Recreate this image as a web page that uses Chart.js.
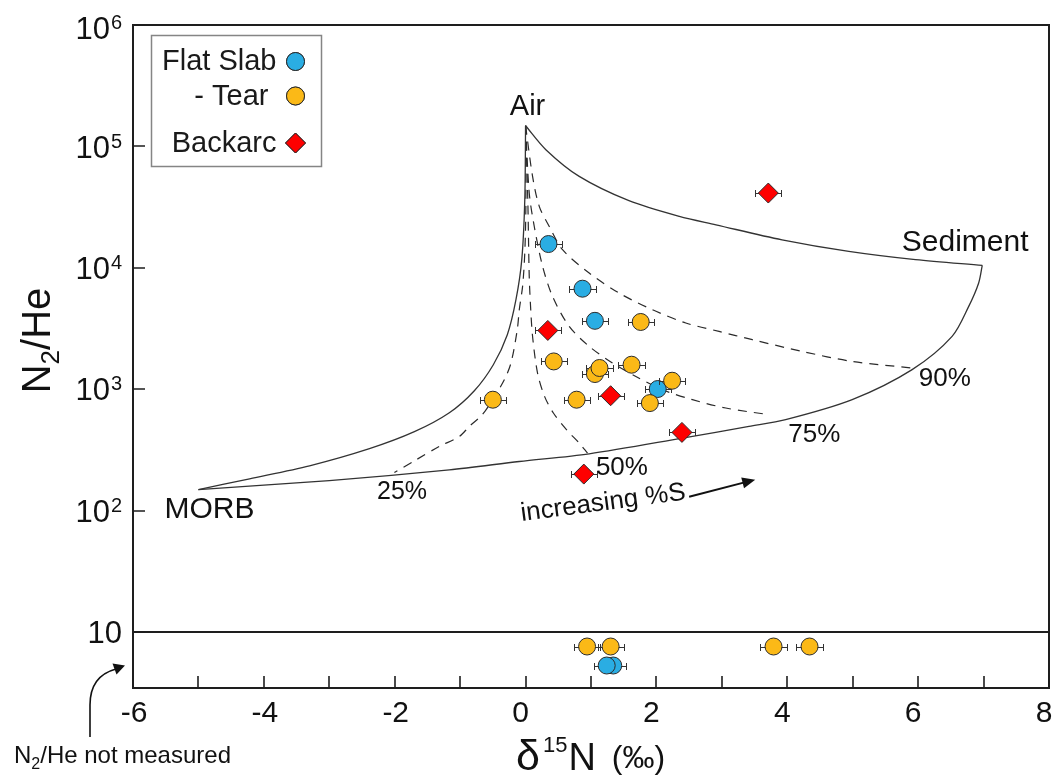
<!DOCTYPE html>
<html>
<head>
<meta charset="utf-8">
<script src="https://cdn.jsdelivr.net/npm/chart.js@4.4.1/dist/chart.umd.min.js"></script>
<style>
  html, body { margin: 0; padding: 0; background: #fff; }
  #wrap { width: 1055px; height: 776px; position: relative; }
</style>
</head>
<body>
<div id="wrap"><canvas id="chart"></canvas></div>
<script>
const FONT = '"Liberation Sans", Arial, Helvetica, sans-serif';
const INK = '#111';

// ---- samples: δ15N (‰), N2/He, δ15N uncertainty (‰) ----
const flatSlabD15N = [0.35, 0.87, 1.06, 2.02];
const flatSlabN2He = [15700, 6730, 3660, 1004];
const flatSlabErr  = [0.2, 0.2, 0.2, 0.2];

const tearD15N = [1.76, 0.43, 1.06, 1.13, 1.62, -0.50, 0.78, 1.90, 2.24];
const tearN2He = [3580, 1694, 1334, 1496, 1592, 820, 820, 769, 1175];
const tearErr  = [0.2, 0.2, 0.2, 0.2, 0.2, 0.2, 0.2, 0.2, 0.2];

const backarcD15N = [3.71, 0.34, 1.30, 2.39, 0.89];
const backarcN2He = [41300, 3050, 884, 441, 200];
const backarcErr  = [0.2, 0.2, 0.2, 0.2, 0.2];

// samples without an N2/He value, plotted in the strip below N2/He = 10
const flatSlabNoRatioD15N = [1.34, 1.24];
const flatSlabNoRatioErr  = [0.2, 0.2];
const tearNoRatioD15N = [0.94, 1.30, 3.79, 4.34];
const tearNoRatioErr  = [0.2, 0.2, 0.2, 0.2];
const STRIP_ROW_TEAR = 7.6;   // axis units inside the strip
const STRIP_ROW_SLAB = 5.3;

// ---- end-member mixing envelope ----
const airMorbX = [0, -0.012, -0.058, -0.147, -0.279, -0.493, -0.783, -1.165, -1.699, -2.386, -3.302, -4.218, -5.0];
const airMorbY = [148000, 36400, 11670, 5460, 2812, 1592, 972, 640, 447, 324, 234, 183, 149];

const airSedX = [0, 0.31, 0.82, 1.58, 2.35, 2.91, 3.92, 4.94, 5.96, 6.98];
const airSedY = [148000, 94000, 56600, 35700, 26500, 22600, 17000, 13650, 11670, 10470];

const morbSedX = [-5.0, -3.0, -1.165, -0.097, 0.972, 2.397, 3.415, 3.975, 4.992, 5.908, 6.519, 6.773, 6.925, 6.98];
const morbSedY = [149, 177, 217, 254, 294, 396, 494, 561, 820, 1449, 2722, 4810, 7500, 10470];

// ---- Air + (MORB/Sediment) mixing lines at fixed %S ----
const mix25X = [0, 0.005, 0.004, -0.01, -0.043, -0.096, -0.127, -0.223, -0.325, -0.504, -0.661, -0.86, -1.012, -1.318, -1.673, -2.005];
const mix25Y = [148000, 64300, 30100, 14100, 7260, 4520, 3090, 1644, 1197, 820, 617, 494, 408, 338, 262, 206];

const mix50X = [0, 0.034, 0.056, 0.079, 0.107, 0.183, 0.29, 0.425, 0.625, 0.82, 0.947];
const mix50Y = [148000, 36400, 8490, 4520, 2720, 1358, 873, 637, 464, 360, 298];

const mix75X = [0, 0.056, 0.133, 0.26, 0.412, 0.667, 0.972, 1.328, 1.686, 2.092, 2.55, 3.06, 3.72];
const mix75Y = [148000, 41300, 21900, 10290, 5810, 3290, 2255, 1644, 1274, 991, 820, 700, 617];

const mix90X = [0, 0.107, 0.209, 0.362, 0.565, 0.972, 1.43, 1.939, 2.449, 2.957, 3.466, 4.229, 4.992, 5.908];
const mix90Y = [148000, 56600, 32100, 21900, 14100, 9060, 6190, 4520, 3510, 2993, 2558, 2047, 1694, 1496];

// ---- axis ticks ----
const yTickValues = [10, 100, 1000, 10000, 100000, 1000000];
const xTickValues = [-6, -5, -4, -3, -2, -1, 0, 1, 2, 3, 4, 5, 6, 7, 8];
const xTickLabels = ['-6', '', '-4', '', '-2', '', '0', '', '2', '', '4', '', '6', '', '8'];

const pts = (xs, ys) => xs.map((x, i) => ({ x, y: ys[i] }));
const row = (xs, yv) => xs.map(x => ({ x, y: yv }));

const markerBase = { showLine: false, pointBorderColor: '#2b2b2b', pointBorderWidth: 1, borderWidth: 0 };
const curve = (data, dashed) => ({
  data, showLine: true, pointRadius: 0, borderColor: dashed ? '#2a2a2a' : '#333',
  borderWidth: dashed ? 1.2 : 1.3, borderDash: dashed ? [9, 7] : [], tension: 0.3,
  fill: false, order: 10, isCurve: true
});

const datasets = [
  { ...markerBase, label: 'Flat Slab', data: [...pts(flatSlabD15N, flatSlabN2He), ...row(flatSlabNoRatioD15N, STRIP_ROW_SLAB)],
    xErr: [...flatSlabErr, ...flatSlabNoRatioErr], pointStyle: 'circle', pointRadius: 8.5,
    pointBackgroundColor: '#2aade3', backgroundColor: '#2aade3', order: 2 },
  { ...markerBase, label: '- Tear ', data: [...pts(tearD15N, tearN2He), ...row(tearNoRatioD15N, STRIP_ROW_TEAR)],
    xErr: [...tearErr, ...tearNoRatioErr], pointStyle: 'circle', pointRadius: 8.5,
    pointBackgroundColor: '#fbb917', backgroundColor: '#fbb917', order: 0 },
  { ...markerBase, label: 'Backarc', data: pts(backarcD15N, backarcN2He),
    xErr: backarcErr, pointStyle: 'rectRot', pointRadius: 10,
    pointBackgroundColor: '#fe0000', backgroundColor: '#fe0000', order: 1 },
  curve(pts(airMorbX, airMorbY), false),
  curve(pts(airSedX, airSedY), false),
  curve(pts(morbSedX, morbSedY), false),
  curve(pts(mix25X, mix25Y), true),
  curve(pts(mix50X, mix50Y), true),
  curve(pts(mix75X, mix75Y), true),
  curve(pts(mix90X, mix90Y), true)
];

// horizontal δ15N error bars, drawn just under each marker set
const errorBars = {
  id: 'errorBars',
  beforeDatasetDraw(chart, args) {
    const ds = chart.data.datasets[args.index];
    if (!ds.xErr) return;
    const { ctx, scales: { x, y } } = chart;
    ctx.save();
    ctx.strokeStyle = '#333';
    ctx.lineWidth = 1;
    ds.data.forEach((p, i) => {
      const e = ds.xErr[i];
      const py = Math.round(y.getPixelForValue(p.y)) + 0.5;
      const x0 = Math.round(x.getPixelForValue(p.x - e)) + 0.5;
      const x1 = Math.round(x.getPixelForValue(p.x + e)) + 0.5;
      ctx.beginPath();
      ctx.moveTo(x0, py); ctx.lineTo(x1, py);
      ctx.moveTo(x0, py - 3.5); ctx.lineTo(x0, py + 3.5);
      ctx.moveTo(x1, py - 3.5); ctx.lineTo(x1, py + 3.5);
      ctx.stroke();
    });
    ctx.restore();
  }
};

// plot frame, inward tick marks, tick labels, titles and notes
const decorations = {
  id: 'decorations',
  afterDraw(chart) {
    const { ctx, chartArea: a, scales: { x, y } } = chart;
    ctx.save();

    // frame
    ctx.strokeStyle = '#1e1e1e';
    ctx.lineWidth = 2;
    ctx.strokeRect(a.left, a.top, a.right - a.left, a.bottom - a.top);

    // N2/He = 10 divider
    const y10 = y.getPixelForValue(10);
    ctx.beginPath();
    ctx.moveTo(a.left, y10); ctx.lineTo(a.right, y10);
    ctx.stroke();

    // x tick marks (every 1 ‰), pointing into the plot
    ctx.lineWidth = 1.6;
    ctx.beginPath();
    xTickValues.forEach(v => {
      const px = Math.round(x.getPixelForValue(v));
      ctx.moveTo(px, a.bottom); ctx.lineTo(px, a.bottom - 12);
    });
    // y tick marks at each decade
    yTickValues.forEach(v => {
      const py = Math.round(y.getPixelForValue(v));
      ctx.moveTo(a.left, py); ctx.lineTo(a.left + 12, py);
    });
    ctx.stroke();

    // x tick labels
    ctx.fillStyle = INK;
    ctx.textBaseline = 'alphabetic';
    ctx.textAlign = 'center';
    ctx.font = `30px ${FONT}`;
    xTickValues.forEach((v, i) => {
      const t = xTickLabels[i];
      if (!t) return;
      ctx.fillText(t, x.getPixelForValue(v) + (v >= 0 ? -5 : 1), a.bottom + 34);
    });

    // y labels: 10, 10², ... with raised exponents
    const big = 31, small = 20;
    const capBig = 0.716 * big, capSmall = 0.716 * small;
    const rightEdge = a.left - 11;
    yTickValues.forEach(v => {
      const exp = Math.round(Math.log10(v));
      const py = y.getPixelForValue(v);
      const top = Math.max(py - capBig / 2, 17);
      const base = top + capBig;
      if (exp === 1) {
        ctx.font = `${big}px ${FONT}`;
        ctx.textAlign = 'right';
        ctx.fillText('10', rightEdge, base);
        return;
      }
      const expText = String(exp);
      ctx.font = `${small}px ${FONT}`;
      const ew = ctx.measureText(expText).width;
      ctx.textAlign = 'left';
      ctx.fillText(expText, rightEdge - ew, top - 2 + capSmall);
      ctx.font = `${big}px ${FONT}`;
      ctx.textAlign = 'right';
      ctx.fillText('10', rightEdge - ew - 1, base);
    });

    // y title: N2/He (rotated)
    ctx.save();
    ctx.translate(50, (a.top + y10) / 2 + 12);
    ctx.rotate(-Math.PI / 2);
    const tBig = `40px ${FONT}`, tSub = `26px ${FONT}`;
    const parts = [['N', tBig, 0], ['2', tSub, 9], ['/He', tBig, 0]];
    let total = 0;
    parts.forEach(([t, f]) => { ctx.font = f; total += ctx.measureText(t).width; });
    let cx = -total / 2;
    ctx.textAlign = 'left';
    parts.forEach(([t, f, dy]) => { ctx.font = f; ctx.fillText(t, cx, dy); cx += ctx.measureText(t).width; });
    ctx.restore();

    // x title: δ15N (‰)
    ctx.textAlign = 'left';
    let tx = 516;
    ctx.font = `43px ${FONT}`;
    ctx.fillText('δ', tx, 770);
    tx += ctx.measureText('δ').width + 3;
    ctx.font = `22px ${FONT}`;
    ctx.fillText('15', tx, 752);
    tx += ctx.measureText('15').width + 1;
    ctx.font = `38px ${FONT}`;
    ctx.fillText('N', tx, 770);
    tx += ctx.measureText('N').width + 16;
    ctx.font = `32px ${FONT}`;
    ctx.fillText('(‰)', tx, 768);

    // note for the strip: N2/He not measured
    const nParts = [['N', `24px ${FONT}`, 0], ['2', `16px ${FONT}`, 6], ['/He not measured', `24px ${FONT}`, 0]];
    let nx = 14;
    nParts.forEach(([t, f, dy]) => { ctx.font = f; ctx.fillText(t, nx, 763 + dy); nx += ctx.measureText(t).width; });

    // curved arrow pointing at the strip
    ctx.strokeStyle = '#111';
    ctx.lineWidth = 1.6;
    ctx.beginPath();
    ctx.moveTo(90, 737);
    ctx.lineTo(90, 705);
    ctx.quadraticCurveTo(90, 676, 116, 669);
    ctx.stroke();
    ctx.fillStyle = '#111';
    ctx.beginPath();
    ctx.moveTo(125, 665.5);
    ctx.lineTo(112.5, 663.5);
    ctx.lineTo(116.5, 674.5);
    ctx.closePath();
    ctx.fill();

    // end-member and %S labels, placed in data space
    ctx.fillStyle = INK;
    const label = (text, dx, dy, size, align) => {
      ctx.font = `${size}px ${FONT}`;
      ctx.textAlign = align;
      ctx.fillText(text, x.getPixelForValue(dx), y.getPixelForValue(dy));
    };
    label('Air', 0.03, 182000, 29, 'center');
    label('Sediment', 5.75, 13650, 30, 'left');
    label('MORB', -5.52, 86.9, 30, 'left');
    label('25%', -2.27, 125, 25, 'left');
    label('50%', 1.075, 198, 26, 'left');
    label('75%', 4.015, 371, 26, 'left');
    label('90%', 6.011, 1069, 26, 'left');

    // "increasing %S" with arrow
    const sx = x.getPixelForValue(-0.06), sy = y.getPixelForValue(82);
    ctx.save();
    ctx.translate(sx, sy);
    ctx.rotate(-7.5 * Math.PI / 180);
    ctx.font = `26px ${FONT}`;
    ctx.textAlign = 'left';
    ctx.fillText('increasing %S', 0, 0);
    ctx.restore();
    const ax0 = x.getPixelForValue(2.50), ay0 = y.getPixelForValue(130);
    const ax1 = x.getPixelForValue(3.51), ay1 = y.getPixelForValue(180);
    const ang = Math.atan2(ay1 - ay0, ax1 - ax0);
    ctx.strokeStyle = '#111';
    ctx.lineWidth = 2;
    ctx.beginPath();
    ctx.moveTo(ax0, ay0);
    ctx.lineTo(ax1 - 8 * Math.cos(ang), ay1 - 8 * Math.sin(ang));
    ctx.stroke();
    ctx.beginPath();
    ctx.moveTo(ax1, ay1);
    ctx.lineTo(ax1 - 13 * Math.cos(ang) + 5.5 * Math.sin(ang), ay1 - 13 * Math.sin(ang) - 5.5 * Math.cos(ang));
    ctx.lineTo(ax1 - 13 * Math.cos(ang) - 5.5 * Math.sin(ang), ay1 - 13 * Math.sin(ang) + 5.5 * Math.cos(ang));
    ctx.closePath();
    ctx.fill();

    ctx.restore();
  }
};

// boxed legend in the upper-left corner, marker to the right of each label
const boxedLegend = {
  id: 'boxedLegend',
  afterDraw(chart) {
    const { ctx, chartArea: a } = chart;
    const items = chart.data.datasets.filter(d => !d.isCurve);
    const left = a.left + 18.5, top = a.top + 10.5, w = 170, h = 131;
    const textRight = left + 125;
    const markerX = left + 144;
    const baselines = [70, 105, 151.5];
    const markerYs = [61.5, 96, 143];
    ctx.save();
    ctx.strokeStyle = '#858585';
    ctx.lineWidth = 1.5;
    ctx.strokeRect(left, top, w, h);
    ctx.font = `29px ${FONT}`;
    ctx.fillStyle = '#1a1a1a';
    ctx.textAlign = 'right';
    ctx.textBaseline = 'alphabetic';
    items.forEach((d, i) => {
      ctx.fillText(d.label, textRight, baselines[i]);
      ctx.fillStyle = d.pointBackgroundColor;
      ctx.strokeStyle = '#2b2b2b';
      ctx.lineWidth = 1;
      Chart.helpers.drawPoint(ctx, { pointStyle: d.pointStyle, radius: d.pointStyle === 'rectRot' ? 10 : 9, borderWidth: 1, rotation: 0 }, markerX, markerYs[i]);
      ctx.fill();
      ctx.stroke();
      ctx.fillStyle = '#1a1a1a';
    });
    ctx.restore();
  }
};

new Chart(document.getElementById('chart'), {
  type: 'scatter',
  data: { datasets },
  options: {
    responsive: true,
    maintainAspectRatio: false,
    animation: false,
    events: [],
    layout: { autoPadding: false, padding: { top: 25, right: 6, left: 0, bottom: 0 } },
    plugins: { legend: { display: false }, tooltip: { enabled: false } },
    scales: {
      x: {
        type: 'linear', min: -6, max: 8,
        grid: { display: false, drawTicks: false },
        border: { display: false },
        ticks: { display: false },
        afterBuildTicks: s => { s.ticks = xTickValues.map(value => ({ value })); },
        afterFit: s => { s.height = 88; }
      },
      y: {
        type: 'logarithmic', min: 3.46, max: 1000000, bounds: 'data',
        grid: { display: false, drawTicks: false },
        border: { display: false },
        ticks: { display: false },
        afterBuildTicks: s => { s.ticks = yTickValues.map(value => ({ value })); },
        afterFit: s => { s.width = 133; }
      }
    }
  },
  plugins: [errorBars, decorations, boxedLegend]
});
</script>
</body>
</html>
